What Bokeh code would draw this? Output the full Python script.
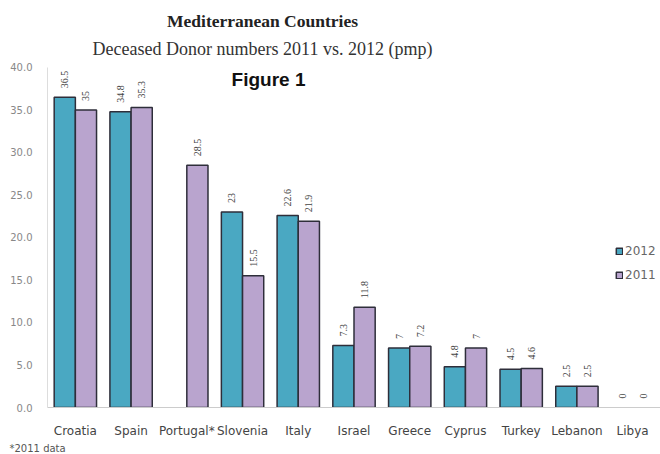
import math
from bokeh.plotting import figure
from bokeh.models import (ColumnDataSource, FactorRange, Range1d, FixedTicker,
                          NumeralTickFormatter, Label, Legend, LegendItem, Title)
from bokeh.transform import dodge
from bokeh.embed import file_html
from bokeh.resources import INLINE

countries = ["Croatia", "Spain", "Portugal*", "Slovenia", "Italy", "Israel",
             "Greece", "Cyprus", "Turkey", "Lebanon", "Libya"]
v2012 = [36.5, 34.8, None, 23, 22.6, 7.3, 7, 4.8, 4.5, 2.5, 0]
v2011 = [35, 35.3, 28.5, 15.5, 21.9, 11.8, 7.2, 7, 4.6, 2.5, 0]
y_ticks = [0, 5, 10, 15, 20, 25, 30, 35, 40]


def fmt(v):
    return str(int(v)) if float(v).is_integer() else str(v)


def make_src(vals):
    xs, ys, lbl = [], [], []
    for c, v in zip(countries, vals):
        if v is None:
            continue
        xs.append(c)
        ys.append(v)
        lbl.append(fmt(v))
    return ColumnDataSource(dict(cat=xs, v=ys, lbl=lbl))


def bar_src(vals):
    xs, ys = [], []
    for c, v in zip(countries, vals):
        if v is None or v == 0:
            continue
        xs.append(c)
        ys.append(v)
    return ColumnDataSource(dict(cat=xs, v=ys))


# frame spans from the canvas top down to the zero line, so the titles fit inside it
p = figure(width=660, height=454, x_range=FactorRange(factors=countries),
           y_range=Range1d(0, 47.88), output_backend="svg", toolbar_location=None,
           min_border_left=47, min_border_right=0, min_border_top=0,
           min_border_bottom=47)
p.outline_line_color = None
p.xgrid.grid_line_color = None
p.ygrid.grid_line_color = None
p.background_fill_color = "white"
p.border_fill_color = "white"

c2012 = "#4AA8C2"
c2011 = "#B9A4CE"
edge = "#2e2e3a"
off = 0.19
w = 0.38

r1 = p.vbar(x=dodge("cat", -off, range=p.x_range), top="v", width=w,
            source=bar_src(v2012), fill_color=c2012, line_color=edge, line_width=1.5)
r2 = p.vbar(x=dodge("cat", off, range=p.x_range), top="v", width=w,
            source=bar_src(v2011), fill_color=c2011, line_color=edge, line_width=1.5)

for vals, dx in ((v2012, -off), (v2011, off)):
    p.text(x=dodge("cat", dx, range=p.x_range), y="v", text="lbl",
           source=make_src(vals), angle=math.pi / 2, text_align="left",
           text_baseline="middle", y_offset=-9, text_font_size="10px",
           text_font="Liberation Serif", text_color="#444444")

# axes
p.xaxis.axis_line_color = "#cccccc"
p.xaxis.major_tick_line_color = None
p.xaxis.minor_tick_line_color = None
p.xaxis.major_tick_out = 0
p.xaxis.major_label_standoff = 16
p.xaxis.major_label_text_font = "DejaVu Sans"
p.xaxis.major_label_text_font_size = "12px"
p.xaxis.major_label_text_color = "#444444"

p.yaxis.ticker = FixedTicker(ticks=y_ticks)
p.yaxis.formatter = NumeralTickFormatter(format="0.0")
p.yaxis.bounds = (0, 40)
p.yaxis.axis_line_color = "#dddddd"
p.yaxis.major_tick_line_color = None
p.yaxis.minor_tick_line_color = None
p.yaxis.major_tick_out = 0
p.yaxis.major_label_standoff = 15
p.yaxis.major_label_text_font = "DejaVu Sans"
p.yaxis.major_label_text_font_size = "10px"
p.yaxis.major_label_text_color = "#888888"

# legend
legend = Legend(items=[LegendItem(label="2012", renderers=[r1]),
                       LegendItem(label="2011", renderers=[r2])],
                location=(568, 124), orientation="vertical",
                padding=0, margin=0, spacing=8, label_height=16,
                glyph_width=8, glyph_height=8, label_standoff=2,
                border_line_color=None, background_fill_alpha=0,
                label_text_font="DejaVu Sans", label_text_font_size="12px",
                label_text_color="#666666")
p.add_layout(legend)

# titles
p.add_layout(Label(x=215, y=387, x_units="screen", y_units="screen",
                   text="Mediterranean Countries", text_align="center",
                   text_baseline="middle", text_font="Liberation Serif",
                   text_font_style="bold", text_font_size="17.5px",
                   text_color="#222222"))
p.add_layout(Label(x=215, y=359, x_units="screen", y_units="screen",
                   text="Deceased Donor numbers 2011 vs. 2012 (pmp)",
                   text_align="center", text_baseline="middle",
                   text_font="Liberation Serif", text_font_size="18px",
                   text_color="#333333"))
p.add_layout(Label(x=221, y=328, x_units="screen", y_units="screen",
                   text="Figure 1", text_align="center", text_baseline="middle",
                   text_font="Liberation Sans", text_font_style="bold",
                   text_font_size="19px", text_color="#111111"))

p.add_layout(Title(text="*2011 data", align="left", offset=-38, standoff=0,
                   text_font="DejaVu Sans", text_font_size="10px",
                   text_font_style="normal", text_color="#555555"), "below")

open("out.html", "w").write(file_html(p, INLINE))
